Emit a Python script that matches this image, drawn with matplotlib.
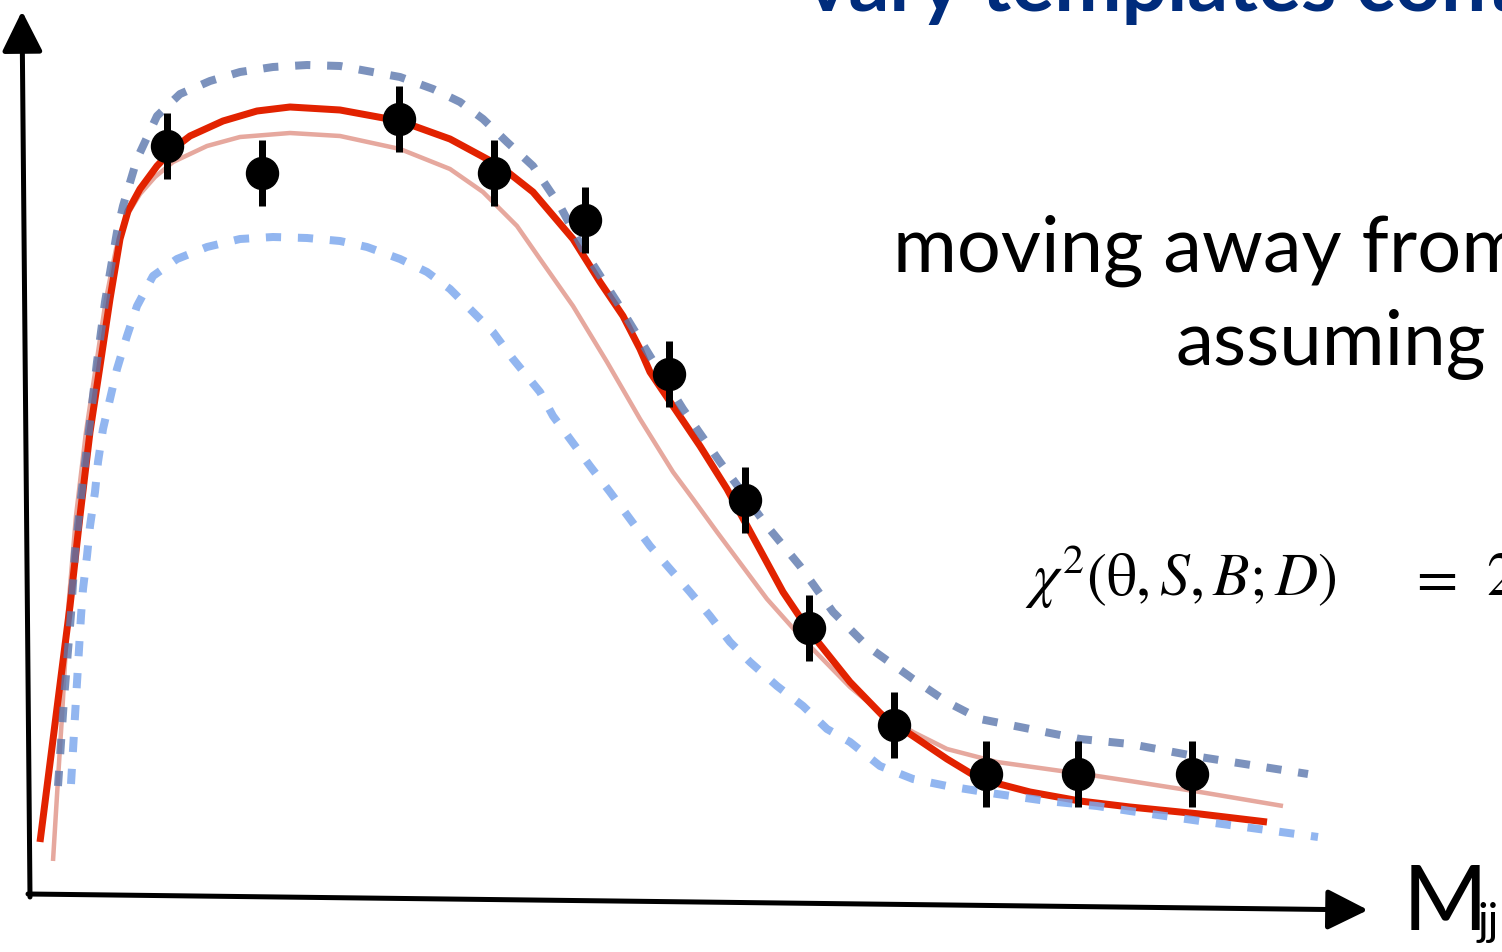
import matplotlib
matplotlib.use("Agg")
import matplotlib.pyplot as plt

# ---- data (sketch units: x = M_jj position, y = height, both read in image pixels) ----
data_x = [167, 262, 399, 494, 585, 669, 745, 809, 894, 986, 1078, 1192]
data_y = [147, 174, 120, 174, 221, 375, 501, 629, 726, 775, 775, 775]
data_err = [33, 33, 33, 33, 33, 33, 33, 33, 33, 33, 33, 33]

# best-fit template (thick red)
fit_x = [40, 56, 70, 80, 90, 100, 110, 120, 128, 140, 157, 173, 190, 223, 257, 290, 340,
         400, 450, 500, 533, 573, 600, 623, 640, 650, 673, 700, 727, 783, 810, 850, 883,
         913, 947, 980, 1030, 1080, 1130, 1200, 1267]
fit_y = [843, 717, 607, 517, 433, 367, 300, 240, 212, 190, 167, 150, 137, 122, 112, 108, 111,
         122, 140, 167, 193, 240, 283, 317, 350, 373, 407, 447, 490, 593, 633, 683, 717,
         737, 760, 780, 793, 802, 808, 815, 823]

# nominal template (pale red)
nom_x = [53, 58, 62, 68, 76, 86, 96, 106, 116, 126, 140, 155, 173, 207, 240, 290, 340, 400,
         450, 483, 517, 540, 573, 607, 640, 673, 693, 717, 767, 800, 850, 880, 913, 947, 997,
         1047, 1097, 1130, 1200, 1283]
nom_y = [862, 780, 717, 612, 517, 433, 367, 300, 250, 218, 195, 178, 163, 147, 138, 134, 137,
         150, 170, 193, 227, 260, 307, 363, 420, 473, 500, 533, 600, 637, 688, 713, 733, 750,
         763, 770, 777, 782, 793, 807]

# +1 sigma template (dark blue dashed)
up_x = [58, 64, 71, 75, 82, 90, 97, 105, 117, 123, 137, 157, 180, 210, 240, 273, 307, 340,
        367, 400, 433, 460, 483, 507, 533, 560, 583, 617, 650, 683, 720, 767, 800, 833, 867,
        913, 947, 980, 1030, 1080, 1130, 1200, 1308]
up_y = [787, 700, 615, 553, 490, 423, 363, 303, 233, 207, 160, 117, 95, 82, 73, 68, 66, 67,
        72, 78, 90, 103, 120, 143, 167, 207, 250, 303, 357, 410, 463, 527, 567, 613, 647,
        680, 703, 720, 730, 740, 745, 758, 775]

# -1 sigma template (light blue dashed)
dn_x = [71, 76, 81, 83, 87, 90, 95, 98, 103, 110, 117, 127, 137, 153, 177, 207, 240, 273,
        307, 340, 367, 400, 427, 450, 473, 493, 513, 540, 553, 570, 590, 610, 630, 650, 670,
        690, 710, 730, 750, 777, 803, 827, 850, 880, 913, 947, 997, 1047, 1097, 1130, 1200,
        1318]
dn_y = [785, 700, 617, 590, 557, 527, 493, 463, 430, 400, 370, 337, 307, 277, 260, 248, 240,
        238, 239, 242, 248, 260, 273, 290, 313, 333, 360, 393, 417, 440, 467, 493, 520, 547,
        570, 593, 617, 643, 663, 687, 707, 730, 743, 767, 780, 787, 795, 802, 807, 812, 822,
        838]

W, H = 1502, 953
fig = plt.figure(figsize=(W / 100, H / 100), dpi=100)
ax = fig.add_axes([0, 0, 1, 1])
ax.set_xlim(0, W)
ax.set_ylim(H, 0)
ax.axis("off")

px = 0.72  # points per pixel

# axes arrows
ax.annotate("", xy=(22, 12), xytext=(30, 898),
            arrowprops=dict(arrowstyle="-|>,head_length=1.0,head_width=0.5", lw=5 * px,
                            color="black", shrinkA=0, shrinkB=0, mutation_scale=25))
ax.annotate("", xy=(1368, 911), xytext=(28, 895),
            arrowprops=dict(arrowstyle="-|>,head_length=1.0,head_width=0.5", lw=5 * px,
                            color="black", shrinkA=0, shrinkB=0, mutation_scale=25))

# curves
ax.plot(nom_x, nom_y, color="#e6a89e", lw=4.5 * px, solid_capstyle="butt",
        solid_joinstyle="round", zorder=2)
ax.plot(fit_x, fit_y, color="#e22200", lw=7 * px, solid_capstyle="butt",
        solid_joinstyle="round", zorder=3)
ax.plot(dn_x, dn_y, color="#7fa9ee", lw=8 * px, alpha=0.85, dashes=(1.9, 2.1),
        dash_capstyle="butt", zorder=4)
ax.plot(up_x, up_y, color="#5b77ad", lw=8 * px, alpha=0.8, dashes=(1.9, 2.1),
        dash_capstyle="butt", zorder=4)

# data points
ax.errorbar(data_x, data_y, yerr=data_err, fmt="o", color="black", ms=32 * px,
            elinewidth=7 * px, capsize=0, zorder=5)

# texts
fam = ["Lato", "DejaVu Sans"]
ax.text(806, 11, "vary templates conta", color="#002c7c", fontsize=58, family=fam,
        fontweight="bold", va="baseline", ha="left")
ax.text(893, 272, "moving away from", color="black", fontsize=56, family=fam,
        va="baseline", ha="left")
ax.text(1176, 365, "assuming", color="black", fontsize=55, family=fam,
        va="baseline", ha="left")
plt.rcParams["mathtext.fontset"] = "stix"
ax.text(1025, 595, r"$\chi^2(\mathrm{\theta}, S, B; D)$",
        color="black", fontsize=43, va="baseline", ha="left")
ax.text(1408, 595, r"$=$", color="black", fontsize=43, va="baseline", ha="left")
ax.text(1486, 595, r"$2$", color="black", fontsize=43, va="baseline", ha="left")
ax.text(1403, 930, "M", color="black", fontsize=66, family=fam, va="baseline", ha="left")
ax.text(1478, 935, "jj", color="black", fontsize=32, family=fam, va="baseline", ha="left")

fig.savefig("out.png", dpi=100)
